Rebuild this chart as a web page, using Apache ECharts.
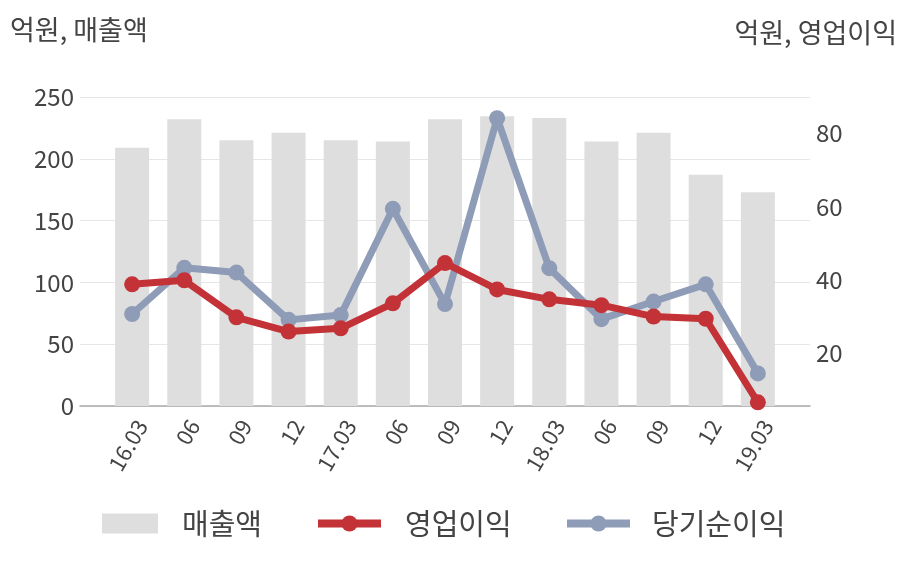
<!DOCTYPE html>
<html><head><meta charset="utf-8">
<script src="https://cdn.jsdelivr.net/npm/echarts@6/dist/echarts.min.js"></script>
<style>html,body{margin:0;padding:0;background:#fff}#c{width:908px;height:580px}</style>
</head><body><div id="c"></div>
<script>
const categories = ['16.03','06','09','12','17.03','06','09','12','18.03','06','09','12','19.03'];
const sales = [209, 232, 215, 221, 215, 214, 232, 234.5, 233, 214, 221, 187, 173];
const opProfit = [38.8, 39.9, 29.8, 25.9, 26.8, 33.6, 44.6, 37.4, 34.7, 33.1, 30.0, 29.4, 6.6];
const netProfit = [30.7, 43.3, 42.0, 29.1, 30.4, 59.4, 33.4, 84.1, 43.2, 29.3, 34.1, 38.8, 14.5];
const leftTicks = [0, 50, 100, 150, 200, 250];
const rightTicks = [20, 40, 60, 80];

const FONT = "'Noto Sans CJK KR', 'Noto Sans', sans-serif";
const TXT = '#444';
const chart = echarts.init(document.getElementById('c'));
const idx = a => a.map((v, i) => [i, v]);
const legendBase = {
  bottom: 37, itemHeight: 20, lineStyle: {width: 8},
  textStyle: {fontSize: 29, color: TXT, fontFamily: FONT, padding: [0, 0, 0, 19]}
};
chart.setOption({
  animation: false,
  textStyle: {fontFamily: FONT},
  grid: {left: 80, right: 98, top: 97, bottom: 174, containLabel: false},
  graphic: [
    {type: 'text', left: 10, top: 16, style: {text: '억원, 매출액', fontSize: 27, fill: TXT, fontFamily: FONT}},
    {type: 'text', right: 11, top: 19, style: {text: '억원, 영업이익', fontSize: 27, fill: TXT, fontFamily: FONT}}
  ],
  legend: [
    Object.assign({}, legendBase, {left: 97, itemWidth: 56, data: [{name: '매출액', icon: 'rect'}]}),
    Object.assign({}, legendBase, {left: 309, itemWidth: 63, data: [{name: '영업이익'}]}),
    Object.assign({}, legendBase, {left: 558, itemWidth: 63, textStyle: Object.assign({}, legendBase.textStyle, {padding: [0, 0, 0, 17]}), data: [{name: '당기순이익'}]})
  ],
  xAxis: {
    type: 'value', min: -1, max: 13, interval: 1,
    splitLine: {show: false}, axisTick: {show: false},
    axisLine: {show: true, lineStyle: {color: '#aaa', width: 1.5}},
    axisLabel: {
      show: true, rotate: 60, fontSize: 22, color: TXT, margin: 10, verticalAlign: 'top',
      showMinLabel: false, showMaxLabel: false,
      formatter: v => (categories[v] !== undefined ? categories[v] : '')
    }
  },
  yAxis: [
    {
      type: 'value', min: leftTicks[0], max: leftTicks[leftTicks.length - 1], interval: 50,
      axisLine: {show: false}, axisTick: {show: false},
      splitLine: {show: true, lineStyle: {color: '#e6e6e6', width: 1}},
      axisLabel: {fontSize: 24, color: TXT, margin: 6}
    },
    {
      type: 'value', min: 5.6, max: 89.9,
      axisLine: {show: false}, axisTick: {show: false},
      splitLine: {show: false},
      axisLabel: {fontSize: 24, color: TXT, margin: 6,
        formatter: v => (rightTicks.includes(Math.round(v * 1000) / 1000) ? String(Math.round(v)) : '')}
    }
  ],
  series: [
    {name: '매출액', type: 'bar', data: idx(sales), barWidth: 34, yAxisIndex: 0,
      itemStyle: {color: '#dedede'}, z: 1},
    {name: '당기순이익', type: 'line', data: idx(netProfit), yAxisIndex: 1,
      symbol: 'circle', symbolSize: 16,
      lineStyle: {color: '#8f9cb7', width: 7}, itemStyle: {color: '#8f9cb7'}, z: 3},
    {name: '영업이익', type: 'line', data: idx(opProfit), yAxisIndex: 1,
      symbol: 'circle', symbolSize: 16,
      lineStyle: {color: '#c33237', width: 7}, itemStyle: {color: '#c33237'}, z: 4}
  ]
});
</script></body></html>
